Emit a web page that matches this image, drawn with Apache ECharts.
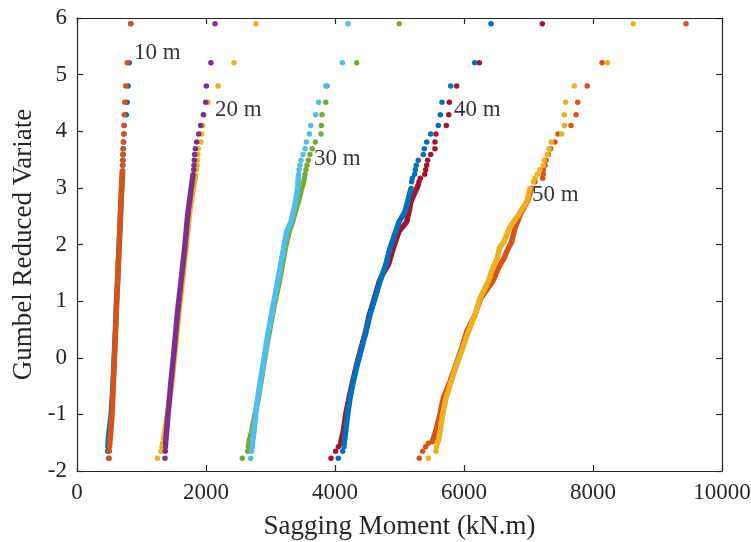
<!DOCTYPE html>
<html><head><meta charset="utf-8">
<script src="https://cdn.jsdelivr.net/npm/echarts@6/dist/echarts.min.js"></script>
<style>html,body{margin:0;padding:0;background:#fff}#c{width:751px;height:542px}</style>
</head><body><div id="c"></div>
<script>
// ---- Data: [sagging moment (kN.m), Gumbel reduced variate] ----
// 10 m span
const s10a_body = [[483,-1.46],[530,-1.0],[556,-0.5],[577,0],[597,0.5],[614,1.0],[635,1.5],[655,2.0],[674,2.5],[694,3.0],[708,3.3]];
const s10a_tail = [[492,-1.775],[476,-1.65],[478,-1.57],[480,-1.51],[712,3.40],[715,3.49],[718,3.59],[720,3.69],[724,3.81],[729,3.95],[733,4.10],[765,4.29],[778,4.51],[793,4.80],[811,5.21],[835,5.90]];
const s10b_body = [[514,-1.46],[543,-1.0],[562,-0.5],[580,0],[598,0.5],[615,1.0],[635,1.5],[654,2.0],[672,2.5],[690,3.0],[703,3.3]];
const s10b_tail = [[496,-1.775],[502,-1.65],[505,-1.57],[509,-1.51],[705,3.40],[708,3.49],[708,3.59],[713,3.69],[718,3.81],[724,3.95],[729,4.10],[734,4.29],[741,4.51],[755,4.80],[780,5.21],[830,5.90]];
// 20 m span
const s20a_body = [[1340,-1.46],[1359,-1.30],[1403,-1.0],[1473,-0.42],[1524,0.17],[1576,0.76],[1633,1.35],[1690,1.935],[1741,2.52],[1788,2.875],[1840,3.23]];
const s20a_tail = [[1245,-1.775],[1302,-1.65],[1318,-1.57],[1328,-1.51],[1850,3.32],[1860,3.40],[1865,3.49],[1871,3.59],[1881,3.69],[1922,3.81],[1933,3.95],[1948,4.10],[1964,4.29],[2031,4.51],[2186,4.80],[2434,5.21],[2775,5.90]];
const s20b_body = [[1378,-1.46],[1411,-1.0],[1457,-0.42],[1509,0.17],[1555,0.76],[1612,1.35],[1669,1.935],[1716,2.52],[1757,2.875],[1798,3.23]];
const s20b_tail = [[1364,-1.775],[1369,-1.65],[1372,-1.57],[1375,-1.51],[1809,3.32],[1814,3.40],[1819,3.49],[1824,3.59],[1834,3.69],[1855,3.81],[1886,3.95],[1917,4.10],[1958,4.29],[1995,4.51],[2005,4.80],[2077,5.21],[2140,5.90]];
// 30 m span
const s30a_body = [[2672,-1.46],[2708,-1.30],[2760,-1.0],[2811,-0.71],[2852,-0.42],[2935,0.17],[2982,0.46],[3049,0.88],[3137,1.35],[3230,1.935],[3290,2.23],[3340,2.40],[3432,2.76],[3483,2.99],[3515,3.11]];
const s30a_tail = [[2563,-1.775],[2646,-1.65],[2656,-1.57],[2665,-1.51],[3525,3.17],[3535,3.24],[3550,3.32],[3566,3.40],[3587,3.49],[3612,3.59],[3648,3.69],[3695,3.81],[3783,3.95],[3789,4.10],[3799,4.29],[3856,4.51],[3876,4.80],[4336,5.21],[4997,5.90]];
const s30b_body = [[2726,-1.46],[2744,-1.30],[2770,-1.0],[2801,-0.71],[2842,-0.42],[2925,0.17],[2966,0.46],[3034,0.88],[3111,1.35],[3204,1.935],[3251,2.23],[3290,2.33],[3318,2.40],[3390,2.76],[3421,2.99],[3435,3.24]];
const s30b_tail = [[2692,-1.775],[2708,-1.65],[2718,-1.57],[2722,-1.51],[3442,3.32],[3457,3.40],[3473,3.49],[3504,3.59],[3535,3.69],[3556,3.81],[3603,3.95],[3623,4.10],[3701,4.29],[3747,4.51],[3856,4.80],[4114,5.21],[4202,5.90]];
// 40 m span
const s40a_body = [[4095,-1.46],[4129,-1.30],[4166,-1.0],[4217,-0.71],[4274,-0.42],[4336,-0.12],[4403,0.17],[4475,0.46],[4532,0.76],[4610,1.05],[4687,1.35],[4750,1.5],[4827,1.64],[4904,1.935],[4992,2.23],[5111,2.40],[5147,2.58],[5178,2.76],[5267,2.99],[5290,3.05]];
const s40a_tail = [[3938,-1.775],[4010,-1.65],[4052,-1.57],[4088,-1.51],[5302,3.11],[5323,3.17],[5391,3.24],[5406,3.32],[5422,3.40],[5437,3.49],[5484,3.59],[5550,3.69],[5550,3.81],[5566,3.95],[5726,4.10],[5763,4.29],[5772,4.51],[5887,4.80],[6237,5.21],[7214,5.90]];
const s40b_body = [[4148,-1.46],[4166,-1.30],[4197,-1.0],[4233,-0.71],[4284,-0.42],[4346,-0.12],[4414,0.17],[4481,0.46],[4543,0.76],[4620,1.05],[4698,1.35],[4786,1.64],[4853,1.935],[4941,2.23],[4992,2.40],[5085,2.58],[5127,2.76],[5178,2.99]];
const s40b_tail = [[4052,-1.775],[4119,-1.65],[4140,-1.57],[4145,-1.51],[5188,3.11],[5198,3.17],[5235,3.24],[5245,3.32],[5260,3.40],[5291,3.49],[5369,3.59],[5385,3.69],[5422,3.81],[5484,3.95],[5602,4.10],[5633,4.29],[5659,4.51],[5794,4.80],[6166,5.21],[6419,5.90]];
// 50 m span
const s50a_body = [[5509,-1.48],[5561,-1.30],[5628,-1.0],[5680,-0.71],[5783,-0.42],[5877,-0.12],[5964,0.17],[6042,0.46],[6171,0.76],[6258,1.05],[6445,1.35],[6532,1.58],[6620,1.76],[6687,1.935],[6739,2.05],[6791,2.29],[6868,2.52],[6982,2.76],[7049,2.99]];
const s50a_tail = [[5307,-1.775],[5359,-1.65],[5406,-1.57],[5447,-1.51],[7101,3.11],[7220,3.17],[7230,3.24],[7230,3.32],[7256,3.40],[7271,3.49],[7307,3.59],[7344,3.69],[7411,3.81],[7457,3.95],[7659,4.10],[7737,4.29],[7763,4.51],[7911,4.80],[8140,5.21],[9442,5.90]];
const s50b_body = [[5602,-1.48],[5628,-1.30],[5670,-1.0],[5721,-0.71],[5799,-0.42],[5887,-0.12],[5980,0.17],[6067,0.46],[6171,0.76],[6248,1.05],[6377,1.35],[6445,1.58],[6517,1.76],[6548,1.935],[6620,2.05],[6703,2.29],[6842,2.52],[6972,2.76],[7023,2.99]];
const s50b_tail = [[5447,-1.775],[5566,-1.65],[5576,-1.57],[5586,-1.51],[7075,3.11],[7101,3.17],[7137,3.24],[7178,3.32],[7230,3.40],[7245,3.49],[7292,3.59],[7318,3.69],[7354,3.81],[7514,3.95],[7555,4.10],[7555,4.29],[7576,4.51],[7710,4.80],[8222,5.21],[8625,5.90]];

// span labels and their anchor positions (data coords)
const spanLabels = ['10 m','20 m','30 m','40 m','50 m'];
const spanLabelAt = [[884,5.38],[2140,4.37],[3674,3.51],[5845,4.37],[7054,2.875]];

const xTickValues = [0,2000,4000,6000,8000,10000];
const yTickValues = [-2,-1,0,1,2,3,4,5,6];

const groups = [
  [s10a_body, s10a_tail, '#0072BD'],
  [s10b_body, s10b_tail, '#D95319'],
  [s20a_body, s20a_tail, '#EDB120'],
  [s20b_body, s20b_tail, '#7E2F8E'],
  [s30a_body, s30a_tail, '#77AC30'],
  [s30b_body, s30b_tail, '#4DBEEE'],
  [s40a_body, s40a_tail, '#A2142F'],
  [s40b_body, s40b_tail, '#0072BD'],
  [s50a_body, s50a_tail, '#D95319'],
  [s50b_body, s50b_tail, '#EDB120']
];

const FONT = 'Liberation Serif';
const AX = '#262626';
const series = [];
groups.forEach((g, i) => {
  series.push({type:'line', data:g[0], showSymbol:false, symbol:'none', silent:true, z:2+i*2,
    lineStyle:{color:g[2], width:5.5, cap:'round', join:'round'}, itemStyle:{color:g[2]}, animation:false});
  series.push({type:'scatter', data:g[1], symbolSize:5.5, z:3+i*2, silent:true,
    itemStyle:{color:g[2], opacity:1}, animation:false});
});
series.push({type:'scatter', z:40, symbolSize:0, silent:true, animation:false,
  data: spanLabels.map((t,i)=>({value:spanLabelAt[i], name:t})),
  label:{show:true, position:'right', distance:0, formatter:p=>p.name, color:'#000', fontFamily:FONT, fontSize:23}});

const chart = echarts.init(document.getElementById('c'), null, {renderer:'canvas'});
const xMin = xTickValues[0], xMax = xTickValues[xTickValues.length-1];
const yMin = yTickValues[0], yMax = yTickValues[yTickValues.length-1];
const plain = v => String(v);
chart.setOption({
  backgroundColor:'#fff',
  animation:false,
  grid:{left:77, right:29, top:18, bottom:71, containLabel:false, outerBoundsMode:'none'},
  xAxis:[{type:'value', min:xMin, max:xMax, interval:2000, position:'bottom',
      axisLine:{show:true, onZero:false, lineStyle:{color:AX, width:1.2}},
      axisTick:{show:true, inside:true, length:6, lineStyle:{color:AX, width:1.2}},
      axisLabel:{color:AX, fontFamily:FONT, fontSize:23, margin:10, formatter:plain, hideOverlap:false},
      splitLine:{show:false},
      name:'Sagging Moment (kN.m)', nameLocation:'middle', nameGap:42,
      nameTextStyle:{color:AX, fontFamily:FONT, fontSize:27}},
    {type:'value', min:xMin, max:xMax, interval:2000, position:'top',
      axisLine:{show:true, onZero:false, lineStyle:{color:AX, width:1.2}},
      axisTick:{show:true, inside:true, length:6, lineStyle:{color:AX, width:1.2}},
      axisLabel:{show:false}, splitLine:{show:false}}],
  yAxis:[{type:'value', min:yMin, max:yMax, interval:1, position:'left',
      axisLine:{show:true, onZero:false, lineStyle:{color:AX, width:1.2}},
      axisTick:{show:true, inside:true, length:6, lineStyle:{color:AX, width:1.2}},
      axisLabel:{color:AX, fontFamily:FONT, fontSize:23, margin:10, formatter:plain},
      splitLine:{show:false},
      name:'Gumbel Reduced Variate', nameLocation:'middle', nameGap:40,
      nameTextStyle:{color:AX, fontFamily:FONT, fontSize:27}},
    {type:'value', min:yMin, max:yMax, interval:1, position:'right',
      axisLine:{show:true, onZero:false, lineStyle:{color:AX, width:1.2}},
      axisTick:{show:true, inside:true, length:6, lineStyle:{color:AX, width:1.2}},
      axisLabel:{show:false}, splitLine:{show:false}}],
  series: series
});
</script></body></html>
